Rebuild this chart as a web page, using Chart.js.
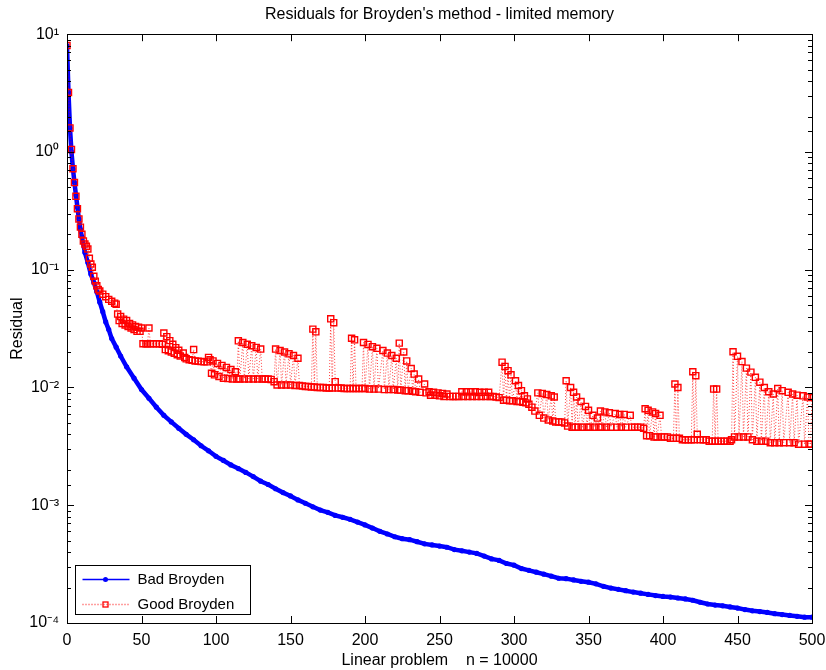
<!DOCTYPE html>
<html>
<head>
<meta charset="utf-8">
<script src="https://cdn.jsdelivr.net/npm/chart.js@4.4.0/dist/chart.umd.min.js"></script>
<style>
  body { margin: 0; background: #fff; }
  canvas { display: block; }
</style>
</head>
<body>
<canvas id="residuals" width="826" height="670"></canvas>
<script>
// data
let badIter = [0, 1, 2, 3, 4, 5, 6, 7, 8, 9, 10, 12, 14, 16, 18, 20, 22, 24, 26, 28, 30, 33, 36, 40, 45,
    50, 55, 60, 65, 70, 75, 80, 85, 90, 95, 100, 105, 110, 115, 120, 125, 130, 135, 140, 145,
    150, 155, 160, 165, 170, 175, 180, 185, 190, 195, 200, 205, 210, 215, 220, 225, 230, 235, 240, 245,
    250, 255, 260, 265, 270, 275, 280, 285, 290, 295, 300, 305, 310, 315, 320, 325, 330, 335, 340, 345,
    350, 355, 360, 365, 370, 375, 380, 385, 390, 395, 400, 405, 410, 415, 420, 425, 430, 435, 440, 445,
    450, 455, 460, 465, 470, 475, 480, 485, 490, 495, 500]
let badRes = [8.0, 3.2, 1.6, 1.0, 0.72, 0.55, 0.43, 0.34, 0.27, 0.22, 0.19, 0.14, 0.115, 0.092, 0.078, 0.065, 0.053, 0.044, 0.036, 0.031, 0.026, 0.022, 0.0185, 0.015, 0.012,
    0.0096, 0.0081, 0.0068, 0.0058, 0.0051, 0.0045, 0.0040, 0.0036, 0.0032, 0.0029, 0.0026, 0.0024, 0.0022, 0.00205, 0.0019, 0.00175, 0.0016, 0.0015, 0.00138, 0.00128,
    0.0012, 0.00111, 0.00104, 0.00097, 0.00091, 0.00087, 0.00082, 0.00079, 0.00076, 0.00072, 0.00068, 0.00064, 0.00060, 0.00057, 0.00054, 0.00052, 0.00051, 0.00049, 0.00047, 0.00046,
    0.00045, 0.00044, 0.00042, 0.00041, 0.00040, 0.00039, 0.00037, 0.00035, 0.00034, 0.00032, 0.00031, 0.00029, 0.00028, 0.00027, 0.00026, 0.00025, 0.00024, 0.000238, 0.000232, 0.000226,
    0.000222, 0.000215, 0.000205, 0.000198, 0.000193, 0.000188, 0.000183, 0.000179, 0.000175, 0.000171, 0.000168, 0.000166, 0.000163, 0.00016, 0.000156, 0.00015, 0.000145, 0.000142, 0.00014, 0.000137,
    0.000134, 0.00013, 0.000127, 0.000125, 0.000123, 0.00012, 0.000118, 0.000116, 0.000114, 0.000112, 0.000112]

let goodIter = [0, 1, 2, 3, 4, 5, 6, 7, 8, 9, 10, 11, 12, 13, 14, 15, 16, 17, 18, 19, 20, 21, 22, 24, 26, 28, 30, 32, 33,
    34, 35, 36, 37, 38, 39, 40, 41, 42, 43, 44, 45, 46, 47, 48, 49, 50,
    51, 53, 54, 55, 56, 58, 60, 62, 64,
    65, 66, 67, 68, 69, 70, 71, 72, 73, 74, 75, 76, 78, 79, 80, 82, 84, 85, 86, 88, 90, 92, 94, 95, 96, 97, 98, 99, 101, 102, 104, 105, 107, 108, 110, 111, 113, 114,
    115, 116, 118, 119, 121, 122, 124, 125, 127, 128, 130, 131, 133, 135, 137, 139,
    140, 141, 143, 144, 146, 147, 149, 150, 152, 153, 155, 156, 158, 160, 162, 164,
    165, 166, 167, 168, 170, 172, 174, 176, 177, 178, 179, 180, 182, 184, 186, 188, 190,
    191, 192, 193, 194, 196, 198, 199, 200, 202, 203, 205, 206, 208, 209, 212, 213, 215, 216, 218, 219, 221, 222,
    223, 224, 226, 227, 228, 229, 231, 232, 233, 234, 236, 237, 240, 241,
    243, 244, 246, 247, 249, 250, 252, 253, 255, 257, 259, 261, 263, 265, 266, 268, 269, 271, 272, 274, 275, 277, 278, 280, 281, 283, 284, 286, 288, 290,
    292, 293, 294, 295, 296, 297, 298, 299, 301, 302, 303, 304, 305, 306, 307, 308, 309, 310, 312, 314,
    316, 317, 319, 320, 322, 323, 325, 326, 327, 328, 330, 332, 334,
    335, 336, 338, 339, 340, 341, 342, 343, 345, 346, 348, 349, 350, 351, 353, 354, 356, 357,
    358, 359, 361, 362, 364, 365, 368, 369, 371, 372, 374, 375, 378, 379, 381, 383, 385, 387,
    388, 389, 390, 391, 393, 394, 395, 396, 398, 399, 401, 403, 405, 407,
    408, 409, 410, 411, 413, 415, 417, 419,
    420, 421, 422, 423, 425, 427, 429, 431, 433,
    434, 435, 436, 437, 439, 441, 443, 445, 446,
    447, 448, 450, 451, 453, 454, 456, 457, 459, 460, 462, 463, 465, 466, 468, 469, 471, 472, 474, 475,
    477, 478, 480, 481, 484, 485, 487, 488, 490, 491, 494, 495, 497, 498, 499, 500]
let goodRes = [8.0, 3.2, 1.6, 1.05, 0.72, 0.55, 0.42, 0.33, 0.27, 0.23, 0.2, 0.175, 0.165, 0.158, 0.15, 0.125, 0.112, 0.105, 0.088, 0.08, 0.073, 0.068, 0.066, 0.062, 0.059, 0.056, 0.054, 0.052, 0.051,
    0.042, 0.037, 0.040, 0.035, 0.038, 0.034, 0.037, 0.033, 0.035, 0.032, 0.034, 0.031, 0.033, 0.030, 0.0325, 0.030, 0.032,
    0.0235, 0.0235, 0.0235, 0.032, 0.0235, 0.0235, 0.0235, 0.0235, 0.0233,
    0.029, 0.021, 0.027, 0.0205, 0.025, 0.020, 0.0233, 0.0195, 0.0218, 0.019, 0.0207, 0.0185, 0.0196, 0.018, 0.0175, 0.0172, 0.017, 0.021, 0.0168, 0.0167, 0.0166, 0.0165, 0.0165, 0.018, 0.0172, 0.0132, 0.0168, 0.0128, 0.016, 0.0124, 0.0154, 0.012, 0.0148, 0.0119, 0.0142, 0.0118, 0.0136, 0.0118,
    0.0249, 0.0118, 0.0241, 0.0118, 0.0233, 0.0118, 0.0226, 0.0118, 0.0219, 0.0118, 0.0212, 0.0118, 0.0118, 0.0118, 0.0117, 0.0112,
    0.0212, 0.0105, 0.0206, 0.0105, 0.0200, 0.0105, 0.0193, 0.0105, 0.0187, 0.0104, 0.0177, 0.0104, 0.0103, 0.0102, 0.0102, 0.0101,
    0.0313, 0.0101, 0.0297, 0.0100, 0.0100, 0.0100, 0.0099, 0.0099, 0.0383, 0.0099, 0.0355, 0.0112, 0.0099, 0.0099, 0.0098, 0.0098, 0.0098,
    0.0262, 0.0098, 0.0254, 0.0098, 0.0098, 0.0098, 0.0241, 0.0098, 0.0232, 0.0097, 0.0222, 0.0097, 0.0215, 0.0097, 0.0206, 0.0096, 0.0196, 0.0096, 0.0187, 0.0096, 0.0177, 0.0095,
    0.0238, 0.0095, 0.0200, 0.0094, 0.0168, 0.0094, 0.0145, 0.0093, 0.0130, 0.0092, 0.0118, 0.0091, 0.0107, 0.0090,
    0.0092, 0.0086, 0.0091, 0.0086, 0.0090, 0.0085, 0.0089, 0.0084, 0.0088, 0.0084, 0.0084, 0.0084, 0.0084, 0.0092, 0.0084, 0.0092, 0.0084, 0.0092, 0.0084, 0.0092, 0.0084, 0.0091, 0.0084, 0.0091, 0.0084, 0.0091, 0.0084, 0.0084, 0.0083, 0.0082,
    0.0164, 0.0078, 0.0151, 0.0078, 0.0139, 0.0077, 0.0128, 0.0077, 0.0114, 0.0076, 0.0104, 0.0076, 0.0094, 0.0075, 0.0085, 0.0074, 0.0080, 0.0072, 0.0068, 0.0063,
    0.0090, 0.0058, 0.0089, 0.0055, 0.0087, 0.0053, 0.0085, 0.0052, 0.0083, 0.0051, 0.0051, 0.0051, 0.0050,
    0.0114, 0.0047, 0.0100, 0.0046, 0.0091, 0.0046, 0.0083, 0.0046, 0.0076, 0.0046, 0.0069, 0.0046, 0.0064, 0.0046, 0.0058, 0.0046, 0.0055, 0.0046,
    0.0063, 0.0046, 0.0062, 0.0046, 0.0061, 0.0046, 0.0060, 0.0046, 0.0059, 0.0046, 0.0059, 0.0046, 0.0058, 0.0046, 0.0046, 0.0046, 0.0046, 0.0045,
    0.0066, 0.0039, 0.0064, 0.0039, 0.0062, 0.0038, 0.0060, 0.0038, 0.0058, 0.0038, 0.0038, 0.0038, 0.0037, 0.0037,
    0.0107, 0.0037, 0.0100, 0.0037, 0.0036, 0.0036, 0.0036, 0.0036,
    0.0136, 0.0036, 0.0126, 0.0040, 0.0036, 0.0036, 0.0036, 0.0035, 0.0035,
    0.0097, 0.0035, 0.0097, 0.0035, 0.0035, 0.0035, 0.0035, 0.0035, 0.0036,
    0.0201, 0.0038, 0.0184, 0.0038, 0.0166, 0.0038, 0.0146, 0.0038, 0.0135, 0.0036, 0.0122, 0.0035, 0.0111, 0.0035, 0.0100, 0.0035, 0.0092, 0.0034, 0.0088, 0.0034,
    0.0098, 0.0034, 0.0094, 0.0034, 0.0091, 0.0034, 0.0088, 0.0034, 0.0086, 0.0033, 0.0085, 0.0033, 0.0083, 0.0033, 0.0033, 0.0082]

let xTicks = [0, 50, 100, 150, 200, 250, 300, 350, 400, 450, 500]
let titleText = "Residuals for Broyden's method - limited memory"
let xTitle = "Linear problem    n = 10000"
let yTitle = "Residual"

const FONT = "'Liberation Sans', Arial, Helvetica, sans-serif"
Chart.defaults.font.family = FONT
Chart.defaults.font.size = 16
Chart.defaults.color = '#000'

let sup = { '-': '\u207B', '0': '\u2070', '1': '\u00B9', '2': '\u00B2', '3': '\u00B3', '4': '\u2074',
    '5': '\u2075', '6': '\u2076', '7': '\u2077', '8': '\u2078', '9': '\u2079' }
let isPow10 = v => Math.abs(Math.log10(v) - Math.round(Math.log10(v))) < 1e-9

// box round the plot with inward ticks, matlab style
const boxTicks = {
    id: 'boxTicks',
    afterDraw(chart) {
        const { ctx, chartArea: a, scales: { x, y } } = chart
        ctx.save()
        ctx.strokeStyle = '#000'
        ctx.lineWidth = 1
        ctx.beginPath()
        x.ticks.forEach(t => {
            let px = Math.round(x.getPixelForValue(t.value)) + 0.5
            ctx.moveTo(px, a.bottom); ctx.lineTo(px, a.bottom - 7)
            ctx.moveTo(px, a.top); ctx.lineTo(px, a.top + 7)
        })
        y.ticks.forEach(t => {
            let py = Math.round(y.getPixelForValue(t.value)) + 0.5
            let len = isPow10(t.value) ? 7 : 4
            ctx.moveTo(a.left, py); ctx.lineTo(a.left + len, py)
            ctx.moveTo(a.right, py); ctx.lineTo(a.right - len, py)
        })
        ctx.stroke()
        ctx.strokeRect(Math.round(a.left) + 0.5, Math.round(a.top) + 0.5,
            Math.round(a.right - a.left), Math.round(a.bottom - a.top))
        ctx.restore()
    }
}

// legend box in the lower left corner
const boxLegend = {
    id: 'boxLegend',
    afterDraw(chart) {
        const { ctx, chartArea: a } = chart
        let left = Math.round(a.left) + 8.5, top = Math.round(a.bottom) - 57.5
        let w = 175, h = 49
        ctx.save()
        ctx.fillStyle = '#fff'
        ctx.fillRect(left, top, w, h)
        ctx.strokeStyle = '#000'
        ctx.lineWidth = 1
        ctx.strokeRect(left, top, w, h)
        chart.data.datasets.forEach((ds, i) => {
            let ry = Math.round(top + 13 + i * 25) + 0.5
            ctx.strokeStyle = ds.borderColor
            ctx.lineWidth = 1.3
            ctx.setLineDash(ds.borderDash || [])
            ctx.beginPath()
            ctx.moveTo(left + 7, ry); ctx.lineTo(left + 54, ry)
            ctx.stroke()
            ctx.setLineDash([])
            let mx = left + 30
            if (ds.pointStyle == 'rect') {
                ctx.strokeStyle = ds.pointBorderColor
                ctx.lineWidth = 1.3
                ctx.strokeRect(mx - 2.5, ry - 2.5, 5, 5)
            } else {
                ctx.fillStyle = ds.pointBackgroundColor
                ctx.beginPath()
                ctx.arc(mx, ry, 2.5, 0, Math.PI * 2)
                ctx.fill()
            }
            ctx.fillStyle = '#000'
            ctx.font = '15px ' + FONT
            ctx.textBaseline = 'middle'
            ctx.fillText(ds.label, left + 62, ry)
        })
        ctx.restore()
    }
}

let residualChart = new Chart('residuals', {
    type: 'line',
    data: {
        datasets: [{
            label: 'Bad Broyden',
            data: badIter.map((it, i) => ({ x: it, y: badRes[i] })),
            borderColor: '#0000ff',
            borderWidth: 4.5,
            pointRadius: 2.6,
            pointBorderWidth: 0,
            pointBackgroundColor: '#0000ff',
            pointStyle: 'circle',
            order: 2
        }, {
            label: 'Good Broyden',
            data: goodIter.map((it, i) => ({ x: it, y: goodRes[i] })),
            borderColor: 'rgba(255, 0, 0, 0.75)',
            borderWidth: 1,
            borderDash: [1, 2],
            pointStyle: 'rect',
            pointRadius: 4.3,
            pointBorderWidth: 1.4,
            pointBorderColor: '#ff0000',
            pointBackgroundColor: 'rgba(0, 0, 0, 0)',
            order: 1
        }]
    },
    options: {
        responsive: false,
        animation: false,
        layout: { padding: { right: 14 } },
        plugins: {
            legend: { display: false },
            tooltip: { enabled: false },
            title: {
                display: true,
                text: titleText,
                fullSize: false,
                font: { size: 16, weight: 'normal' },
                padding: { top: 5, bottom: 10 }
            }
        },
        scales: {
            x: {
                type: 'linear',
                min: 0,
                max: 500,
                grid: { display: false, drawTicks: false },
                border: { display: false },
                afterBuildTicks: scale => { scale.ticks = xTicks.map(v => ({ value: v })) },
                ticks: { padding: 8, font: { size: 16 } },
                afterFit: scale => {
                    scale.height = 47
                    scale.paddingRight = 0
                    scale.paddingLeft = 0
                },
                title: { display: true, text: xTitle, font: { size: 16 }, padding: { top: 0, bottom: 0 } }
            },
            y: {
                type: 'logarithmic',
                min: 1e-4,
                max: 10,
                grid: { display: false, drawTicks: false },
                border: { display: false },
                ticks: {
                    autoSkip: false,
                    padding: 8,
                    font: { size: 16 },
                    callback: v => {
                        if (!isPow10(v)) return ''
                        let e = String(Math.round(Math.log10(v)))
                        return '10' + e.split('').map(c => sup[c]).join('')
                    }
                },
                afterFit: scale => { scale.width = 67 },
                title: { display: true, text: yTitle, font: { size: 16 }, padding: { top: 8, bottom: 0 } }
            }
        }
    },
    plugins: [boxTicks, boxLegend]
})
</script>
</body>
</html>
